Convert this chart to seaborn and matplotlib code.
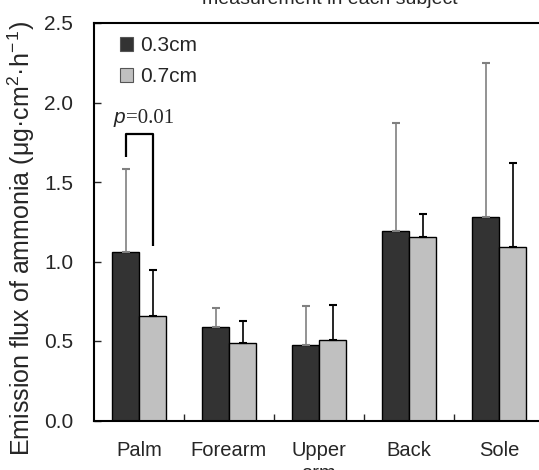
"""
    plot.py
    Emission flux of ammonia by body site and measurement depth.
"""
import pandas as pd
import seaborn as sns
import matplotlib.pyplot as plt
from matplotlib.patches import Patch

# Data.
SITES = ['Palm', 'Forearm', 'Upper\narm', 'Back', 'Sole']
DEPTHS = ['0.3cm', '0.7cm']
MEAN_03 = [1.06, 0.59, 0.475, 1.19, 1.28]
SD_03 = [0.52, 0.12, 0.245, 0.68, 0.97]
MEAN_07 = [0.66, 0.49, 0.505, 1.155, 1.09]
SD_07 = [0.285, 0.135, 0.22, 0.145, 0.53]
Y_TICKS = [0.0, 0.5, 1.0, 1.5, 2.0, 2.5]

COLORS = {'0.3cm': '#333333', '0.7cm': '#c0c0c0'}
ERR_COLORS = {'0.3cm': '#808080', '0.7cm': '#000000'}


def main():
    sns.set_style('white')
    plt.rcParams['font.family'] = ['Liberation Sans', 'DejaVu Sans']
    plt.rcParams['mathtext.fontset'] = 'custom'
    plt.rcParams['mathtext.rm'] = 'Liberation Sans'
    plt.rcParams['mathtext.it'] = 'Liberation Sans:italic'

    df = pd.DataFrame({
        'site': SITES * 2,
        'depth': [DEPTHS[0]] * len(SITES) + [DEPTHS[1]] * len(SITES),
        'flux': MEAN_03 + MEAN_07,
        'sd': SD_03 + SD_07,
    })

    fig = plt.figure(figsize=(5.39, 4.70), dpi=100)
    ax = fig.add_axes([94 / 539, 49.5 / 470, 450 / 539, 397.5 / 470])

    sns.barplot(data=df, x='site', y='flux', hue='depth', order=SITES,
                hue_order=DEPTHS, palette=COLORS, saturation=1, width=0.6,
                edgecolor='black', linewidth=1, errorbar=None, ax=ax)

    # Upper-only error bars.
    for depth, container in zip(DEPTHS, ax.containers):
        sub = df[df['depth'] == depth].set_index('site').loc[SITES]
        xs = [p.get_x() + p.get_width() / 2 for p in container.patches]
        ax.errorbar(xs, sub['flux'], yerr=[[0] * len(xs), sub['sd']],
                    fmt='none', ecolor=ERR_COLORS[depth], elinewidth=1.2,
                    capsize=3, capthick=1.5, zorder=1)

    # Significance bracket on Palm.
    ax.plot([-0.15, -0.15, 0.15, 0.15], [1.66, 1.805, 1.805, 1.10],
            color='black', lw=1.6, solid_capstyle='butt')
    ax.text(-0.289, 1.871, r'$\mathit{p}$', fontsize=15, va='baseline',
            ha='left')
    ax.text(-0.145, 1.871, '=0.01', fontsize=15, va='baseline', ha='left',
            family='Liberation Serif')

    # Axes limits and ticks.
    ax.set_ylim(0, 2.5)
    ax.set_xlim(-0.5, 4.5)
    ax.set_yticks(Y_TICKS)
    ax.set_yticklabels([f'{t:.1f}' for t in Y_TICKS])
    ax.tick_params(axis='y', direction='in', length=5, width=1, pad=15,
                   labelsize=15, left=True)
    ax.set_xticks(range(len(SITES)))
    ax.set_xticklabels(SITES, linespacing=1.25)
    ax.tick_params(axis='x', length=0, pad=15, labelsize=14.5)
    ax.set_xticks([i + 0.5 for i in range(len(SITES) - 1)], minor=True)
    ax.tick_params(axis='x', which='minor', direction='in', length=5,
                   width=1, bottom=True)

    for side in ['left', 'bottom', 'top']:
        ax.spines[side].set_linewidth(1.5)
        ax.spines[side].set_color('black')
    ax.spines['right'].set_visible(False)

    ax.set_xlabel('')
    ax.set_ylabel(r'Emission flux of ammonia (μg·cm$^{2}$·h$^{-\,1}$)',
                  fontsize=18, va='baseline')
    ax.yaxis.set_label_coords(-64 / 450, 0.458)

    # Legend.
    ax.get_legend().remove()
    handles = [Patch(facecolor=COLORS[d], edgecolor='#555555', linewidth=0.8)
               for d in DEPTHS]
    ax.legend(handles=handles, labels=DEPTHS, loc='upper left',
              bbox_to_anchor=(0.058, 0.967), frameon=False, fontsize=15,
              handlelength=0.63, handleheight=0.63, handletextpad=0.33,
              labelspacing=0.58, borderpad=0, borderaxespad=0)

    # Title (only its last line sits in view).
    fig.text(330 / 539, 1.0 + 1 / 470, 'measurement in each subject',
             ha='center', va='center', fontsize=14)

    plt.savefig('out.png', dpi=100)


if __name__ == '__main__':
    main()
